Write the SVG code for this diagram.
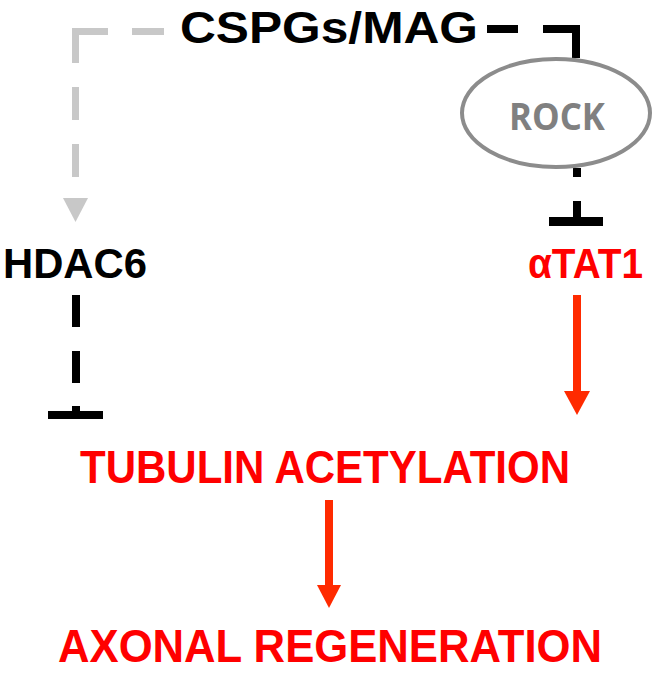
<svg xmlns="http://www.w3.org/2000/svg" width="653" height="677" viewBox="0 0 653 677">
<style>
.lbl{font-family:"Liberation Sans",Arial,sans-serif;font-weight:bold}
.blk{fill:#000}
.red{fill:#ff0000}
.gry{stroke:#c8c8c8;stroke-width:7;fill:none}
.bl{stroke:#000;stroke-width:8;fill:none}
.rd{stroke:#ff2a00;stroke-width:8;fill:none}
</style>
<rect width="653" height="677" fill="#fff"/>
<g id="connectors">
  <path class="gry" d="M164,31.5 H75.5 V198" stroke-dasharray="32 24 64 24 33 24 33 200" stroke-linejoin="miter"/>
  <polygon points="63,198 88,198 75.5,222" fill="#c8c8c8"/>
  <path class="bl" d="M487,29 H576 V58" stroke-dasharray="31 25 70"/>
  <path class="bl" d="M577,168 V177 M577,201 V218"/>
  <rect x="549" y="217" width="54" height="9" fill="#000"/>
  <path class="bl" d="M76,295 V327 M76,351 V383 M76,406 V412"/>
  <rect x="48" y="411" width="55" height="8" fill="#000"/>
  <path class="rd" d="M577,295 V392"/>
  <polygon points="564,391 590,391 577,415" fill="#ff2a00"/>
  <path class="rd" d="M329,500 V586"/>
  <polygon points="317,585 341,585 329,608" fill="#ff2a00"/>
</g>
<g id="cspgs"><text class="lbl blk" x="180" y="43" font-size="45" textLength="298" lengthAdjust="spacingAndGlyphs">CSPGs/MAG</text></g>
<g id="rock">
  <ellipse cx="556" cy="113" rx="94" ry="54" fill="none" stroke="#8c8c8c" stroke-width="4"/>
  <text x="509" y="130" font-family="'Open Sans',Lato,sans-serif" font-weight="bold" font-size="37" fill="#808080" textLength="96" lengthAdjust="spacingAndGlyphs">ROCK</text>
</g>
<g id="hdac6"><text class="lbl blk" x="3" y="278" font-size="42" textLength="144" lengthAdjust="spacingAndGlyphs">HDAC6</text></g>
<g id="atat1"><text class="lbl red" x="528" y="278" font-size="42" textLength="115" lengthAdjust="spacingAndGlyphs">αTAT1</text></g>
<g id="tubulin"><text class="lbl red" x="80" y="483" font-size="46" textLength="490" lengthAdjust="spacingAndGlyphs">TUBULIN ACETYLATION</text></g>
<g id="axonal"><text class="lbl red" x="58" y="662" font-size="47" textLength="544" lengthAdjust="spacingAndGlyphs">AXONAL REGENERATION</text></g>
</svg>
